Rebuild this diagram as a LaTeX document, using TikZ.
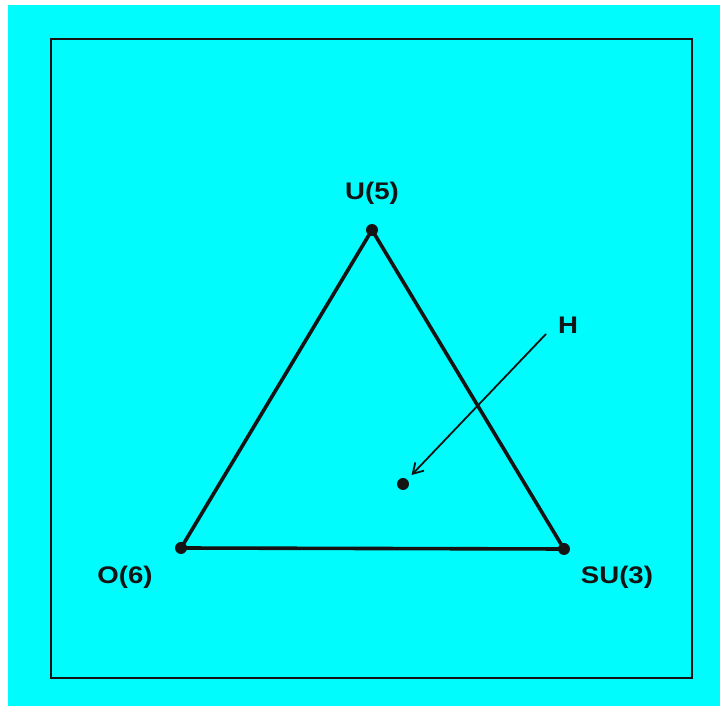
\documentclass[tikz,border=0pt]{standalone}
\usepackage{fontspec}
\setsansfont{Liberation Sans}
\usepackage{graphicx}
\usetikzlibrary{arrows.meta}
\definecolor{PlateBG}{HTML}{00FCFC}
\definecolor{InkCol}{HTML}{141414}
\newcommand{\grp}[1]{\scalebox{1.15}[1]{#1}}

\begin{document}
\begin{tikzpicture}[x=0.5pt,y=-0.5pt,
  every node/.style={font=\sffamily\bfseries\fontsize{12}{14}\selectfont, text=InkCol},
  vx/.style={circle, fill=InkCol, inner sep=0pt, minimum size=6pt},
  side/.style={line width=1.8pt, draw=InkCol},
  >={Straight Barb[length=5pt,width=6pt]}]
  \fill[white] (0,0) rectangle (720,706);
  \fill[PlateBG] (8,5) rectangle (720,706);
  \useasboundingbox (0,0) rectangle (720,706);
  \draw[line width=1.2pt, InkCol] (51,39) rectangle (692,678);
  % corners of the triangle
  \node[vx] (U)  at (372,230) {};
  \node[vx] (O)  at (181,548) {};
  \node[vx] (SU) at (564,549) {};
  \node[vx] (hpt) at (403,484) {};
  \draw[side] (U.center) -- (O.center) -- (SU.center) -- cycle;
  \node (Ulab)  at (372,193) {\grp{U(5)}};
  \node (Olab)  at (125,577) {\grp{O(6)}};
  \node (SUlab) at (617,577) {\grp{SU(3)}};
  \node (Hlab)  at (568,325) {\grp{H}};
  \coordinate (Hfoot) at (546,334);
  \draw[->, line width=0.9pt, InkCol, shorten >=3pt] (Hfoot) -- (hpt);
\end{tikzpicture}
\end{document}
